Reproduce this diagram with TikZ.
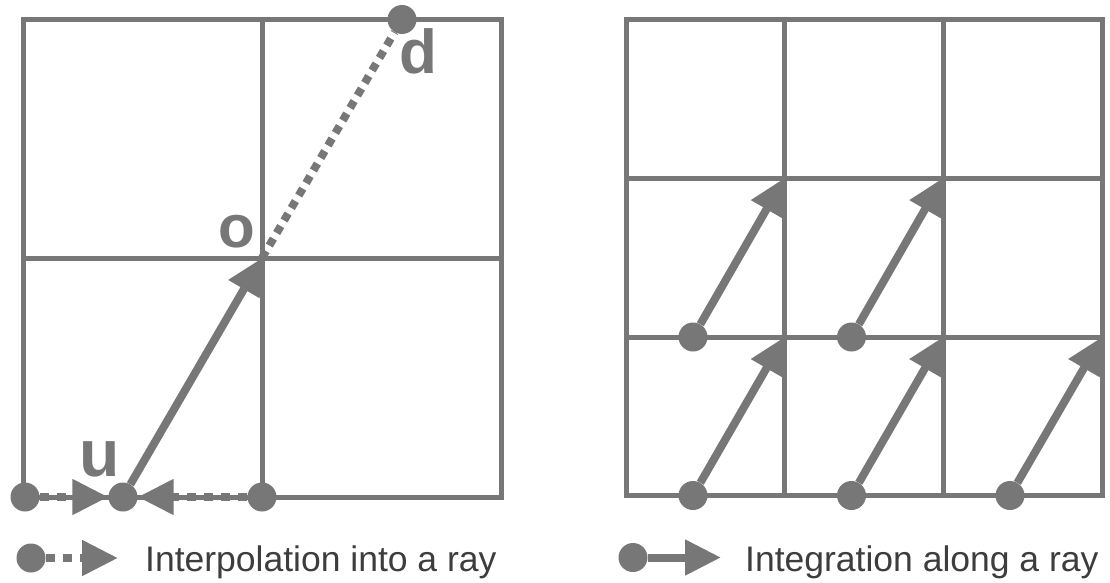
\documentclass[tikz,border=0pt]{standalone}
\usepackage{fontspec}
\setmainfont{Liberation Sans}
\usetikzlibrary{arrows.meta}
\definecolor{g}{HTML}{777777}
\definecolor{txt}{HTML}{3D3D3D}
\tikzset{
  gridline/.style={draw=g, line width=5pt},
  dot/.style={circle, fill=g, inner sep=0pt, minimum size=29pt},
  ray/.style={draw=g, line width=8pt, -{Triangle[length=36pt,width=34pt]}},
  dashray/.style={ray, dash pattern=on 9pt off 8pt},
  dotted ray/.style={draw=g, line width=8pt, dash pattern=on 8pt off 6.5pt},
  lbl/.style={text=g, inner sep=0pt, anchor=base, font=\bfseries},
  legtext/.style={text=txt, inner sep=0pt, anchor=base west, font=\fontsize{35.5}{40}\selectfont}
}
\begin{document}
\begin{tikzpicture}[x=1pt,y=-1pt]
\useasboundingbox (0,0) rectangle (1110,583);
% left grid
\draw[gridline] (23,19.5) rectangle (501,497);
\draw[gridline] (262,19.5) -- (262,497);
\draw[gridline] (23,258) -- (501,258);
% right grid
\draw[gridline] (626,19.5) rectangle (1102,495.5);
\draw[gridline] (784.5,19.5) -- (784.5,495.5);
\draw[gridline] (943,19.5) -- (943,495.5);
\draw[gridline] (626,178) -- (1102,178);
\draw[gridline] (626,337) -- (1102,337);
% left content
\coordinate (o) at (262,258);
\node[dot] (L) at (25,497) {};
\node[dot] (u) at (123,497) {};
\node[dot] (R) at (262,497) {};
\node[dot] (d) at (402,19.5) {};
\draw[dashray] (L) -- (u);
\draw[dashray] (R) -- (u);
\draw[ray] (u) -- (o);
\draw[dotted ray] (o) -- (d);
\node[lbl, font=\bfseries\fontsize{66}{66}\selectfont] (ul) at (99.5,476) {u};
\node[lbl, font=\bfseries\fontsize{60}{60}\selectfont] (ol) at (236.5,247.5) {o};
\node[lbl, font=\bfseries\fontsize{62}{62}\selectfont] (dl) at (418,74) {d};
% right content
\node[dot] (b1) at (693,495.5) {};
\node[dot] (b2) at (851.5,495.5) {};
\node[dot] (b3) at (1010,495.5) {};
\node[dot] (m1) at (693,337) {};
\node[dot] (m2) at (851.5,337) {};
\coordinate (t1) at (784.5,337);
\coordinate (t2) at (943,337);
\coordinate (t3) at (1102,337);
\coordinate (s1) at (784.5,178);
\coordinate (s2) at (943,178);
\draw[ray] (b1) -- (t1);
\draw[ray] (b2) -- (t2);
\draw[ray] (b3) -- (t3);
\draw[ray] (m1) -- (s1);
\draw[ray] (m2) -- (s2);
% legends
\node[dot] (lg1) at (31,558) {};
\coordinate (lg1t) at (118,558);
\draw[dashray] (lg1) -- (lg1t);
\node[legtext] (lt1) at (145,571.5) {Interpolation into a ray};
\node[dot] (lg2) at (633,557.5) {};
\coordinate (lg2t) at (721,557.5);
\draw[ray] (lg2) -- (lg2t);
\node[legtext] (lt2) at (745,571.5) {Integration along a ray};
\end{tikzpicture}
\end{document}
